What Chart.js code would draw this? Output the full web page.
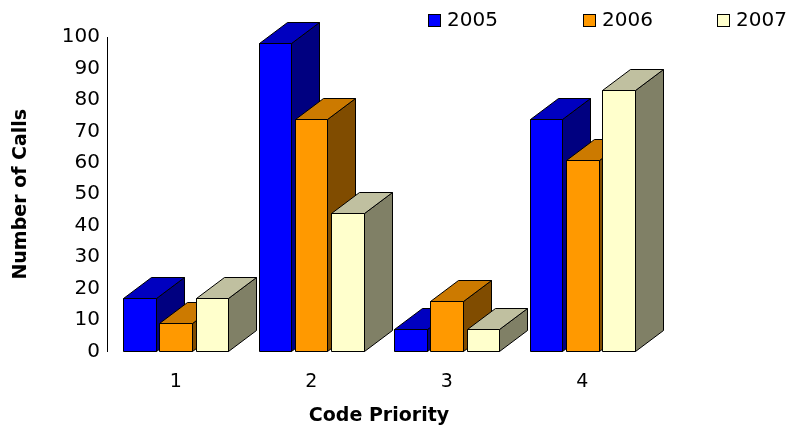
<!DOCTYPE html>
<html><head><meta charset="utf-8">
<script src="https://cdn.jsdelivr.net/npm/chart.js@4/dist/chart.umd.min.js"></script>
<style>body{margin:0;background:#fff}#wrap{width:793px;height:427px}</style>
</head><body><div id="wrap"><canvas id="c"></canvas></div>
<script>
const categories = ['1', '2', '3', '4'];
const years = ['2005', '2006', '2007'];
const calls2005 = [17, 98, 7, 74];
const calls2006 = [9, 74, 16, 61];
const calls2007 = [17, 44, 7, 83];

const faces = [
	{ front: '#0000ff', top: '#0000c0', side: '#000080' },
	{ front: '#ff9900', top: '#cc7a00', side: '#804c00' },
	{ front: '#ffffcc', top: '#c0c0a0', side: '#808066' }
];
const DX = 28, DY = -21;
const legendX = [428, 583, 717];

function poly(ctx, pts, fill) {
	ctx.beginPath();
	ctx.moveTo(pts[0][0], pts[0][1]);
	for (let i = 1; i < pts.length; i++) ctx.lineTo(pts[i][0], pts[i][1]);
	ctx.closePath();
	ctx.fillStyle = fill;
	ctx.fill();
	ctx.stroke();
}

const bars3d = {
	id: 'bars3d',
	beforeDatasetsDraw(chart) {
		const ctx = chart.ctx;
		ctx.save();
		ctx.strokeStyle = '#000';
		ctx.lineWidth = 1;
		for (let i = 0; i < categories.length; i++) {
			chart.data.datasets.forEach((ds, d) => {
				const bar = chart.getDatasetMeta(d).data[i];
				const l = Math.round(bar.x - bar.width / 2) + 0.5, r = Math.round(bar.x + bar.width / 2) + 0.5;
				const t = Math.round(bar.y) + 0.5, b = Math.round(bar.base) + 0.5;
				const c = faces[d];
				poly(ctx, [[l, t], [r, t], [r, b], [l, b]], c.front);
				poly(ctx, [[r, t], [r + DX, t + DY], [r + DX, b + DY], [r, b]], c.side);
				poly(ctx, [[l, t], [l + DX, t + DY], [r + DX, t + DY], [r, t]], c.top);
			});
		}
		ctx.restore();
		return false;
	},
	afterDraw(chart) {
		// legend drawn by hand, top right
		const ctx = chart.ctx;
		ctx.save();
		ctx.font = '20px Verdana, "DejaVu Sans", sans-serif';
		ctx.textBaseline = 'middle';
		ctx.strokeStyle = '#000';
		years.forEach((y, d) => {
			ctx.fillStyle = faces[d].front;
			ctx.fillRect(legendX[d] + 0.5, 14.5, 12, 12);
			ctx.strokeRect(legendX[d] + 0.5, 14.5, 12, 12);
			ctx.fillStyle = '#000';
			ctx.fillText(y, legendX[d] + 19, 21);
		});
		ctx.restore();
	}
};

Chart.defaults.font.family = 'Verdana, "DejaVu Sans", sans-serif';
Chart.defaults.color = '#000';

new Chart(document.getElementById('c'), {
	type: 'bar',
	data: {
		labels: categories,
		datasets: [
			{ label: years[0], data: calls2005, backgroundColor: faces[0].front },
			{ label: years[1], data: calls2006, backgroundColor: faces[1].front },
			{ label: years[2], data: calls2007, backgroundColor: faces[2].front }
		]
	},
	options: {
		responsive: true,
		maintainAspectRatio: false,
		animation: false,
		layout: { padding: { left: 10, right: 143, top: 37, bottom: 0 } },
		plugins: {
			tooltip: { enabled: false },
			legend: { display: false }
		},
		scales: {
			x: {
				categoryPercentage: 0.78, barPercentage: 1,
				grid: { display: false },
				border: { display: false },
				ticks: { font: { size: 19 }, padding: 11 },
				title: { display: true, text: 'Code Priority', font: { size: 19, weight: 'bold' }, padding: { top: 0, bottom: 0 } }
			},
			y: {
				min: 0, max: 100,
				ticks: { stepSize: 10, font: { size: 20 }, padding: 3 },
				grid: { display: false, drawTicks: true, tickLength: 5, tickColor: '#000' },
				border: { display: true, color: '#000' },
				title: { display: true, text: 'Number of Calls', font: { size: 19, weight: 'bold' }, padding: { top: 0, bottom: 26 } }
			}
		}
	},
	plugins: [bars3d]
});
</script></body></html>
